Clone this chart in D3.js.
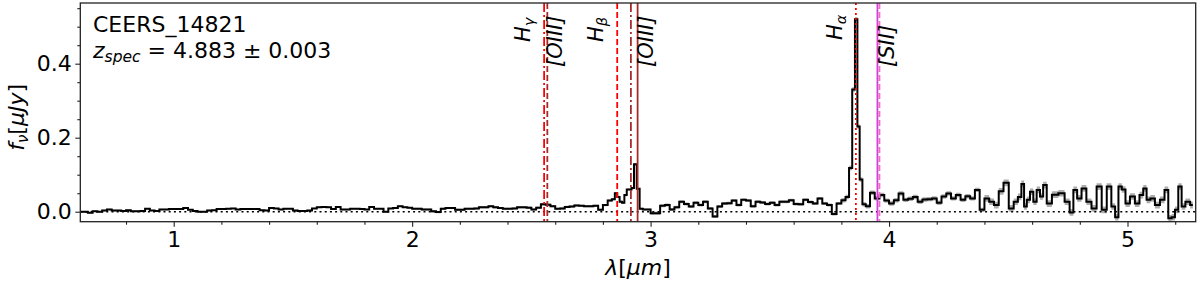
<!DOCTYPE html>
<html>
<head>
<meta charset="utf-8">
<script src="https://cdn.jsdelivr.net/npm/d3@7/dist/d3.min.js"></script>
<style>
    body { margin: 0; background: #fff; }
    svg text { font-family: "DejaVu Sans", sans-serif; fill: #000; }
</style>
</head>
<body>
<div id="spec-area"></div>
<script>

// ---- data ----
const objName = "CEERS_14821"
const zSpec = 4.883
const zErr = 0.003

// wavelength bin centres [um]
const wave = [
    0.61, 0.63, 0.65, 0.67, 0.69, 0.71, 0.73, 0.75, 0.77, 0.79,
    0.81, 0.83, 0.85, 0.87, 0.89, 0.91, 0.93, 0.95, 0.97, 0.99,
    1.01, 1.03, 1.05, 1.07, 1.09, 1.11, 1.13, 1.15, 1.17, 1.19,
    1.21, 1.23, 1.25, 1.27, 1.29, 1.31, 1.33, 1.35, 1.37, 1.39,
    1.41, 1.43, 1.45, 1.47, 1.49, 1.51, 1.53, 1.55, 1.57, 1.59,
    1.61, 1.63, 1.65, 1.67, 1.69, 1.71, 1.73, 1.75, 1.77, 1.79,
    1.81, 1.83, 1.85, 1.87, 1.89, 1.91, 1.93, 1.95, 1.97, 1.99,
    2.01, 2.03, 2.05, 2.07, 2.09, 2.11, 2.13, 2.15, 2.17, 2.19,
    2.21, 2.23, 2.25, 2.27, 2.29, 2.31, 2.33, 2.35, 2.37, 2.39,
    2.41, 2.43, 2.45, 2.47, 2.49, 2.51, 2.53, 2.55, 2.57, 2.59,
    2.61, 2.63, 2.65, 2.67, 2.69, 2.71, 2.73, 2.75, 2.77, 2.79,
    2.81, 2.83, 2.845, 2.855, 2.865, 2.875, 2.885, 2.895, 2.905, 2.915,
    2.925, 2.936, 2.948, 2.96, 2.975, 2.99, 3.01, 3.03, 3.05, 3.07,
    3.09, 3.11, 3.13, 3.15, 3.17, 3.19, 3.21, 3.23, 3.25, 3.27,
    3.29, 3.31, 3.33, 3.35, 3.37, 3.39, 3.41, 3.43, 3.45, 3.47,
    3.49, 3.51, 3.53, 3.55, 3.57, 3.59, 3.61, 3.63, 3.65, 3.67,
    3.69, 3.71, 3.73, 3.75, 3.77, 3.79, 3.81, 3.825, 3.8395, 3.8515,
    3.8625, 3.872, 3.8815, 3.895, 3.91, 3.93, 3.95, 3.97, 3.99, 4.01,
    4.03, 4.05, 4.07, 4.09, 4.11, 4.13, 4.15, 4.17, 4.19, 4.21,
    4.23, 4.25, 4.27, 4.29, 4.31, 4.33, 4.35, 4.37, 4.39, 4.41,
    4.43, 4.45, 4.47, 4.49,
    4.514, 4.5315, 4.549, 4.561, 4.5715, 4.584, 4.598, 4.612, 4.626, 4.640,
    4.6525, 4.670, 4.696, 4.724, 4.7485, 4.766, 4.780, 4.7975, 4.817, 4.838,
    4.860, 4.881, 4.9025, 4.9235, 4.941, 4.955, 4.969, 4.983, 5.000, 5.0205,
    5.0415, 5.059, 5.073, 5.087, 5.1045, 5.1255, 5.1465, 5.164, 5.178, 5.192,
    5.206, 5.220, 5.234, 5.2515, 5.274
]

// f_nu [uJy], same order as wave
const flux = [
    0.000, 0.000, -0.003, 0.001, 0.000, 0.003, 0.006, 0.003, 0.003, 0.002,
    0.004, 0.001, 0.001, 0.002, 0.008, 0.003, 0.002, 0.006, 0.006, 0.007,
    0.007, 0.007, 0.010, 0.005, 0.002, 0.000, 0.000, 0.003, 0.004, 0.007,
    0.007, 0.008, 0.009, 0.006, 0.007, 0.007, 0.007, 0.007, 0.004, 0.003,
    0.010, 0.009, 0.006, 0.008, 0.008, 0.003, 0.002, 0.002, 0.003, 0.009,
    0.012, 0.013, 0.012, 0.007, 0.013, 0.006, 0.006, 0.008, 0.008, 0.007,
    0.006, 0.013, 0.008, 0.008, 0.000, 0.009, 0.010, 0.015, 0.012, 0.011,
    0.008, 0.008, 0.006, 0.006, 0.001, -0.001, 0.008, 0.010, 0.010, 0.005,
    0.005, 0.008, 0.008, 0.009, 0.012, 0.012, 0.015, 0.012, 0.010, 0.008,
    0.008, 0.009, 0.012, 0.012, 0.011, 0.006, 0.011, 0.020, 0.019, 0.015,
    0.008, 0.009, 0.013, 0.014, 0.017, 0.016, 0.015, 0.015, 0.016, 0.005,
    0.018, 0.030, 0.034, 0.050, 0.040, 0.027, 0.024, 0.045, 0.060, 0.060,
    0.064, 0.128, 0.062, 0.008, 0.006, 0.006, -0.004, -0.004, 0.016, 0.018,
    0.006, 0.012, 0.027, 0.021, 0.014, 0.024, 0.018, 0.027, 0.009, -0.013,
    0.014, 0.022, 0.023, 0.030, 0.018, 0.032, 0.030, 0.015, 0.027, 0.025,
    0.021, 0.024, 0.018, 0.027, 0.027, 0.031, 0.021, 0.020, 0.032, 0.026,
    0.022, 0.036, 0.022, 0.018, -0.006, 0.022, 0.031, 0.040, 0.118, 0.330,
    0.520, 0.230, 0.087, 0.020, 0.015, 0.051, 0.036, 0.045, 0.030, 0.022,
    0.031, 0.049, 0.032, 0.035, 0.040, 0.027, 0.033, 0.034, 0.036, 0.024,
    0.041, 0.049, 0.036, 0.045, 0.032, 0.042, 0.036, 0.059, 0.005, 0.036,
    0.027, 0.018, 0.055, 0.078,
    0.009, 0.027, 0.040, 0.075, 0.014, 0.032, 0.054, 0.027, 0.059, 0.041,
    0.072, 0.022, 0.046, 0.050, 0.027, -0.002, 0.059, 0.036, 0.063, 0.027,
    0.009, 0.068, 0.005, 0.068, 0.014, -0.015, 0.068, 0.060, 0.022, 0.041,
    0.022, 0.045, 0.063, 0.032, 0.036, 0.018, 0.032, 0.059, -0.018, -0.015,
    0.005, 0.068, 0.014, 0.027, 0.018
]

// 1-sigma error, constant inside each wavelength range
const errEdges = [0.6, 2.0, 3.0, 3.8, 4.4, 5.3]
const errLevels = [0.002, 0.003, 0.004, 0.006, 0.009]

// emission lines (rest wavelength in um)
const lineIds = ["Hg", "OIII4363", "Hb", "OIII4959", "OIII5007", "Ha", "SII6716", "SII6731"]
const lineRest = [0.434047, 0.436321, 0.486133, 0.495891, 0.500684, 0.656280, 0.671644, 0.673081]

// axis ticks
const xTicks = [1, 2, 3, 4, 5]
const xMinorTicks = [0.8, 1.2, 1.4, 1.6, 1.8, 2.2, 2.4, 2.6, 2.8, 3.2, 3.4, 3.6, 3.8,
    4.2, 4.4, 4.6, 4.8, 5.2]
const yTicks = [0.0, 0.2, 0.4]
const yMinorTicks = [0.05, 0.1, 0.15, 0.25, 0.3, 0.35, 0.45, 0.5, 0.55]


class SpectrumVis {
    constructor(parentElement) {
        this.parentElement = parentElement
        this.initVis()
    }
    initVis() {
        let vis = this

        vis.margin = {top: 3, right: 4.3, bottom: 61.3, left: 80.3}
        vis.width = 1200 - vis.margin.left - vis.margin.right
        vis.height = 283 - vis.margin.top - vis.margin.bottom

        vis.svg = d3.select("#" + vis.parentElement).append("svg")
            .attr("width", 1200)
            .attr("height", 283)
        vis.g = vis.svg.append("g")
            .attr("transform", `translate(${vis.margin.left},${vis.margin.top})`)

        vis.svg.append("defs").append("clipPath").attr("id", "plot-clip")
            .append("rect").attr("width", vis.width).attr("height", vis.height)

        // scales
        vis.x = d3.scaleLinear().domain([0.6083, 5.286]).range([0, vis.width])
        vis.y = d3.scaleLinear().domain([-0.027, 0.564]).range([vis.height, 0])

        vis.wrangleData()
    }
    wrangleData() {
        let vis = this
        vis.displayData = wave.map((w, i) => {
            let e = errLevels[Math.max(0, d3.bisectRight(errEdges, w) - 1)]
            return {w: w, f: flux[i], e: e}
        })
        vis.lines = lineIds.map((id, i) => ({id: id, obs: lineRest[i] * (1 + zSpec)}))
        vis.updateVis()
    }
    updateVis() {
        let vis = this
        let plot = vis.g.append("g").attr("clip-path", "url(#plot-clip)")

        // error band
        let area = d3.area()
            .curve(d3.curveStep)
            .x(d => vis.x(d.w))
            .y0(d => vis.y(d.f - d.e))
            .y1(d => vis.y(d.f + d.e))
        plot.append("path")
            .datum(vis.displayData)
            .attr("d", area)
            .attr("fill", "#909090")
            .attr("opacity", 0.75)

        // spectrum
        let line = d3.line()
            .curve(d3.curveStep)
            .x(d => vis.x(d.w))
            .y(d => vis.y(d.f))
        plot.append("path")
            .datum(vis.displayData)
            .attr("d", line)
            .attr("fill", "none")
            .attr("stroke", "#000")
            .attr("stroke-width", 2)

        // zero level
        plot.append("line")
            .attr("x1", 0).attr("x2", vis.width)
            .attr("y1", vis.y(0)).attr("y2", vis.y(0))
            .attr("stroke", "#000")
            .attr("stroke-width", 1.6)
            .attr("stroke-dasharray", "2,3.2")

        // line markers
        let lineStyle = {
            Hg: {c: "#ff0000", dash: "9,3,2,3"},
            OIII4363: {c: "#a52a2a", dash: "6,3"},
            Hb: {c: "#ff0000", dash: "6,3"},
            OIII4959: {c: "#a52a2a", dash: "9,3,2,3"},
            OIII5007: {c: "#a52a2a", dash: null},
            Ha: {c: "#ff0000", dash: "2,3"},
            SII6716: {c: "#d63fd6", dash: null},
            SII6731: {c: "#f06ad0", dash: "6,3"}
        }
        vis.lines.forEach(l => {
            plot.append("line")
                .attr("x1", vis.x(l.obs)).attr("x2", vis.x(l.obs))
                .attr("y1", 0).attr("y2", vis.height)
                .attr("stroke", lineStyle[l.id].c)
                .attr("stroke-width", 1.8)
                .attr("stroke-dasharray", lineStyle[l.id].dash)
        })

        // line labels (rotated, reading upward)
        let labels = [
            {id: "Hg", main: "H", sub: "\u03b3", side: "left", y0: 39},
            {id: "OIII4363", main: "[OIII]", sub: null, side: "right", y0: 64},
            {id: "Hb", main: "H", sub: "\u03b2", side: "left", y0: 39},
            {id: "OIII5007", main: "[OIII]", sub: null, side: "right", y0: 64},
            {id: "Ha", main: "H", sub: "\u03b1", side: "left", y0: 37},
            {id: "SII6731", main: "[SII]", sub: null, side: "right", y0: 64}
        ]
        labels.forEach(lb => {
            let lx = vis.x(vis.lines.find(l => l.id === lb.id).obs)
            let bx = lb.side === "left" ? lx - 14 : lx + 15
            let t = vis.g.append("text")
                .attr("transform", `translate(${bx},${lb.y0}) rotate(-90)`)
                .attr("font-size", 21)
                .attr("font-style", "italic")
            t.append("tspan").text(lb.main)
            if (lb.sub) {
                t.append("tspan").attr("font-size", 14.5).attr("dy", 4).text(lb.sub)
            }
        })

        // axes
        let xAxis = d3.axisBottom(vis.x).tickValues(xTicks).tickFormat(d3.format("d"))
            .tickSize(5).tickPadding(5)
        let xMinor = d3.axisBottom(vis.x).tickValues(xMinorTicks).tickFormat("").tickSize(3)
        let yAxis = d3.axisLeft(vis.y).tickValues(yTicks).tickFormat(d3.format(".1f"))
            .tickSize(5).tickPadding(3.5)
        let yMinor = d3.axisLeft(vis.y).tickValues(yMinorTicks).tickFormat("").tickSize(3)

        let axes = [
            vis.g.append("g").attr("transform", `translate(0,${vis.height})`).call(xAxis),
            vis.g.append("g").attr("transform", `translate(0,${vis.height})`).call(xMinor),
            vis.g.append("g").call(yAxis),
            vis.g.append("g").call(yMinor)
        ]
        axes.forEach(a => {
            a.select(".domain").remove()
            a.selectAll(".tick line").attr("stroke", "#222").attr("stroke-width", 1.1)
            a.selectAll("text").attr("font-size", 22).attr("fill", "#000")
                .attr("font-family", "DejaVu Sans")
        })

        // frame
        vis.g.append("rect")
            .attr("width", vis.width).attr("height", vis.height)
            .attr("fill", "none")
            .attr("stroke", "#222")
            .attr("stroke-width", 1.3)

        // axis titles
        let xt = vis.svg.append("text")
            .attr("x", vis.margin.left + vis.width / 2)
            .attr("y", 275)
            .attr("text-anchor", "middle")
            .attr("font-size", 22)
        xt.append("tspan").attr("font-style", "italic").text("\u03bb")
        xt.append("tspan").text("[")
        xt.append("tspan").attr("font-style", "italic").text("\u03bcm")
        xt.append("tspan").text("]")

        let yt = vis.svg.append("text")
            .attr("transform", `translate(24,${vis.margin.top + vis.y(0.255)}) rotate(-90)`)
            .attr("text-anchor", "middle")
            .attr("font-size", 22)
        yt.append("tspan").attr("font-style", "italic").text("f")
        yt.append("tspan").attr("font-style", "italic").attr("font-size", 15).attr("dy", 4).text("\u03bd")
        yt.append("tspan").attr("dy", -4).text("[")
        yt.append("tspan").attr("font-style", "italic").text("\u03bcJy")
        yt.append("tspan").text("]")

        // object name and redshift
        vis.svg.append("text")
            .attr("x", 93).attr("y", 32)
            .attr("font-size", 22)
            .text(objName)
        let zt = vis.svg.append("text")
            .attr("x", 93).attr("y", 58)
            .attr("font-size", 22)
        zt.append("tspan").attr("font-style", "italic").text("z")
        zt.append("tspan").attr("font-style", "italic").attr("font-size", 15.5).attr("dy", 4).text("spec")
        zt.append("tspan").attr("dy", -4).text(` = ${zSpec.toFixed(3)} \u00b1 ${zErr.toFixed(3)}`)
    }
}

new SpectrumVis("spec-area")

</script>
</body>
</html>
